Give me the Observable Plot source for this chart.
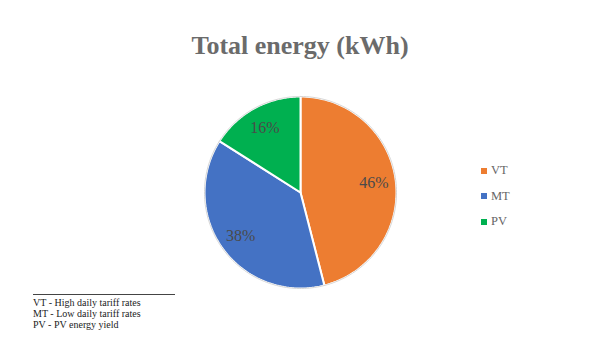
<!DOCTYPE html>
<html>
<head>
<meta charset="utf-8">
<script src="https://cdn.jsdelivr.net/npm/d3@7"></script>
<script src="https://cdn.jsdelivr.net/npm/@observablehq/plot@0.6"></script>
<style>
  body { margin: 0; background: #fff; }
  #wrap { position: relative; width: 600px; height: 340px; overflow: hidden; font-family: "Liberation Serif", "DejaVu Serif", serif; }
  #title { position: absolute; left: 0; width: 600px; top: 31px; text-align: center; font-size: 26px; font-weight: bold; color: #6b6b6b; }
  #chart { position: absolute; left: 0; top: 0; }
  .leg { position: absolute; left: 481px; font-size: 12.5px; color: #666; display: flex; align-items: center; }
  .leg span.sw { width: 6px; height: 6px; margin-right: 4px; display: inline-block; }
  #foot { position: absolute; left: 33px; top: 294px; width: 142px; border-top: 1px solid #444; padding-top: 2px; font-size: 10px; line-height: 11px; color: #222; }
</style>
</head>
<body>
<div id="wrap">
  <div id="chart"></div>
  <div id="title">Total energy (kWh)</div>
  <div id="legend"></div>
  <div id="foot"></div>
</div>
<script>
const categories = ["VT", "MT", "PV"];
const shares = [46, 38, 16];
const colors = ["#ED7D31", "#4472C4", "#00B050"];
const notes = ["VT - High daily tariff rates", "MT - Low daily tariff rates", "PV - PV energy yield"];

const total = d3.sum(shares);
const pie = d3.pie().sort(null).value(d => d.value)(categories.map((c, i) => ({cat: c, value: shares[i]})));

// slice outlines in unit-circle coordinates (angle 0 = top, clockwise)
const pts = [];
pie.forEach(s => {
  const n = 90;
  pts.push({cat: s.data.cat, x: 0, y: 0});
  for (let k = 0; k <= n; k++) {
    const a = s.startAngle + (s.endAngle - s.startAngle) * k / n;
    pts.push({cat: s.data.cat, x: Math.sin(a), y: Math.cos(a)});
  }
  pts.push({cat: s.data.cat, x: 0, y: 0});
});
const labels = pie.map(s => {
  const a = (s.startAngle + s.endAngle) / 2;
  return {cat: s.data.cat, x: 0.77 * Math.sin(a), y: 0.77 * Math.cos(a), label: Math.round(s.data.value / total * 100) + "%"};
});

const R = 96, cx = 300, cy = 192, W = 600, H = 340;
const chart = Plot.plot({
  width: W, height: H,
  margin: 0,
  x: {domain: [-cx / R, (W - cx) / R], axis: null},
  y: {domain: [-(H - cy) / R, cy / R], axis: null},
  color: {domain: categories, range: colors},
  marks: [
    Plot.line(pts, {x: "x", y: "y", z: "cat", fill: "cat", stroke: "#fff", strokeWidth: 2, curve: "linear"}),
    Plot.line(pts.filter(p => p.x !== 0 || p.y !== 0), {x: "x", y: "y", z: "cat", stroke: "#d6d6d6", strokeWidth: 1}),
    Plot.text(labels, {x: "x", y: "y", text: "label", fill: "#4a4a4a", fontSize: 16, fontFamily: "Liberation Serif, serif"})
  ]
});
document.getElementById("chart").appendChild(chart);

const leg = document.getElementById("legend");
categories.forEach((c, i) => {
  const d = document.createElement("div");
  d.className = "leg";
  d.style.top = (163 + i * 25.5) + "px";
  d.innerHTML = `<span class="sw" style="background:${colors[i]}"></span>${c}`;
  leg.appendChild(d);
});
document.getElementById("foot").innerHTML = notes.map(n => `<div>${n}</div>`).join("");
</script>
</body>
</html>
